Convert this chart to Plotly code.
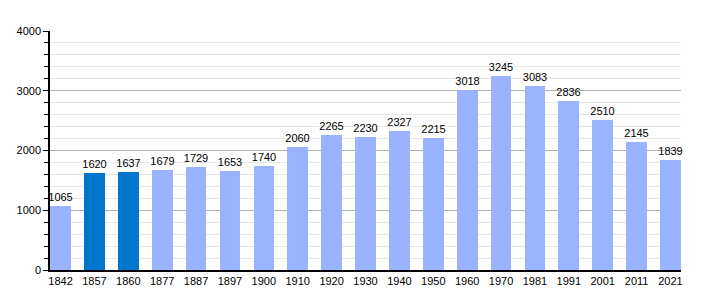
import plotly.graph_objects as go

years = ["1842", "1857", "1860", "1877", "1887", "1897", "1900", "1910", "1920", "1930",
         "1940", "1950", "1960", "1970", "1981", "1991", "2001", "2011", "2021"]
population = [1065, 1620, 1637, 1679, 1729, 1653, 1740, 2060, 2265, 2230,
              2327, 2215, 3018, 3245, 3083, 2836, 2510, 2145, 1839]
highlight = ["1857", "1860"]

light = "#99b3ff"
dark = "#0077cc"
colors = [dark if y in highlight else light for y in years]

fig = go.Figure()
fig.add_trace(go.Bar(
    x=list(range(len(years))), y=population,
    marker=dict(color=colors, line=dict(width=0)),
    width=0.61,
    text=[str(v) for v in population],
    textposition="outside",
    constraintext="none",
    textfont=dict(size=11, color="black", family="Liberation Sans, Arial"),
    cliponaxis=False,
))

fig.update_layout(
    width=710, height=300,
    margin=dict(l=50, r=29, t=31, b=30),
    paper_bgcolor="white", plot_bgcolor="white",
    showlegend=False,
    font=dict(family="Liberation Sans, Arial", size=11, color="black"),
    bargap=0,
)
fig.update_xaxes(
    tickmode="array", tickvals=list(range(len(years))), ticktext=years,
    range=[-0.31, len(years) - 1 + 0.31],
    showline=True, linecolor="black", linewidth=1.5,
    showgrid=False, ticks="", tickfont=dict(size=11),
    fixedrange=True,
)
fig.update_yaxes(
    range=[0, 4000], tickmode="linear", tick0=0, dtick=1000,
    showline=True, linecolor="black", linewidth=1.5,
    gridcolor="#b0b0b0", gridwidth=1,
    ticks="outside", ticklen=5, tickcolor="black",
    tickfont=dict(size=11),
    minor=dict(dtick=200, showgrid=True, gridcolor="#e6e6e6", gridwidth=1,
               ticks="outside", ticklen=4, tickcolor="black"),
    zeroline=False,
)

fig.write_html("out.html")
